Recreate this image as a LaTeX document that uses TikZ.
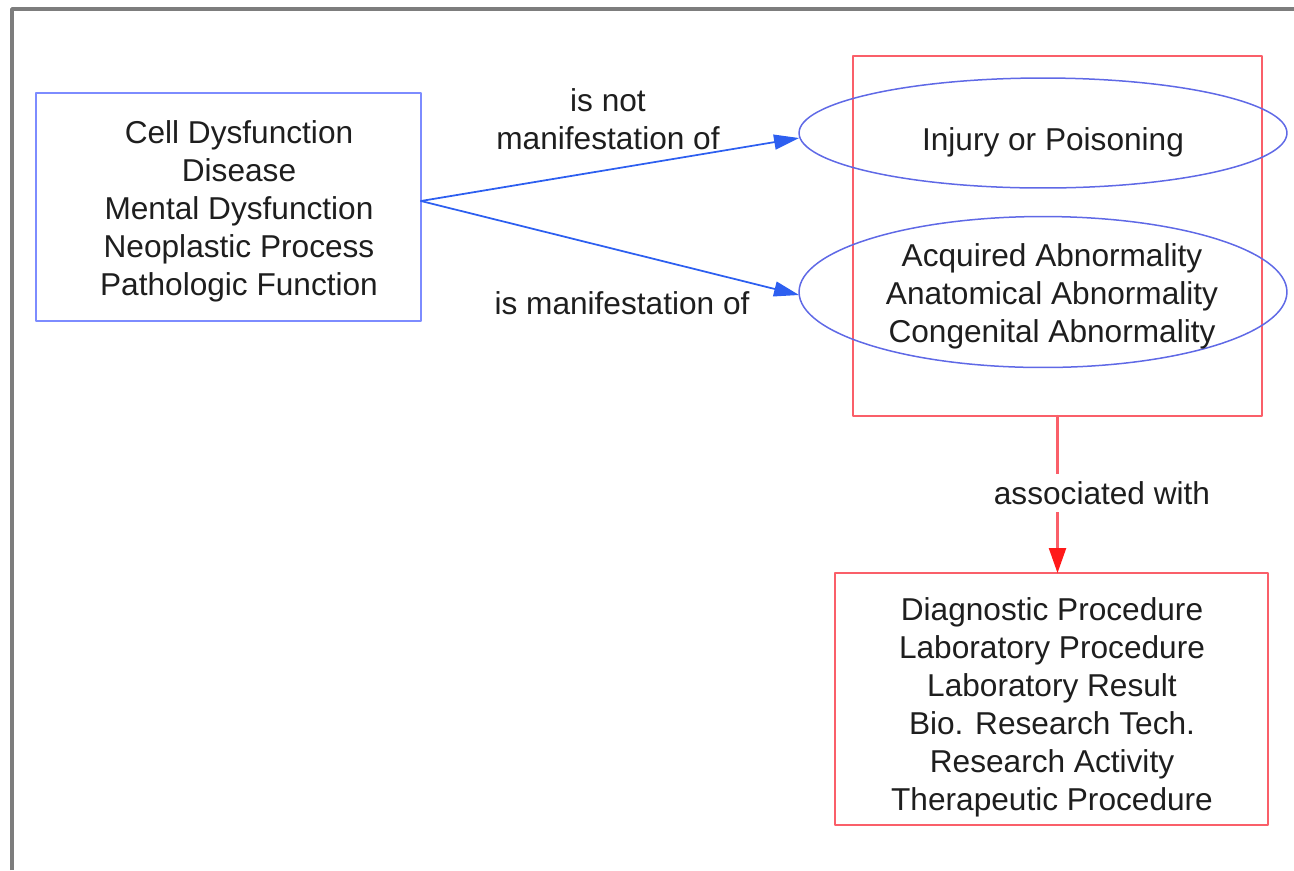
\documentclass[tikz,border=0pt]{standalone}
\usepackage{fontspec}
\setmainfont{Liberation Sans}
\usetikzlibrary{arrows.meta,shapes.geometric}
\definecolor{boxblue}{RGB}{125,140,255}
\definecolor{ellblue}{RGB}{95,105,230}
\definecolor{arrblue}{RGB}{45,95,240}
\definecolor{boxred}{RGB}{250,95,105}
\definecolor{arrred}{RGB}{255,25,25}
\definecolor{framegrey}{RGB}{125,125,125}
\definecolor{ink}{RGB}{30,30,30}
\tikzset{
  shapebox/.style={draw,rectangle,inner sep=0pt,outer sep=0pt,line width=0.05cm},
  shapeell/.style={draw=ellblue,ellipse,inner sep=0pt,outer sep=0pt,line width=0.03cm},
  words/.style={align=center,text=ink,inner sep=0pt},
  bluearr/.style={draw=arrblue,line width=0.035cm,-{Triangle[length=0.5cm,width=0.3cm]}},
  redarr/.style={draw=boxred,line width=0.045cm,-{Triangle[length=0.5cm,width=0.34cm,color=arrred]}}
}
\begin{document}
\begin{tikzpicture}[x=0.02cm,y=-0.02cm,line cap=round,line join=round,font=\fontsize{18}{21.6}\selectfont]
  \useasboundingbox (0,0) rectangle (1294,870);
  \draw[framegrey,line width=0.07cm,line cap=butt] (12,870) -- (12,9) -- (1294,9);
  % boxes and ellipses
  \node[shapebox,draw=boxblue,minimum width=7.70cm,minimum height=4.56cm] (src) at (228.5,207) {};
  \node[shapebox,draw=boxred,minimum width=8.18cm,minimum height=7.2cm] (grp) at (1057.5,236) {};
  \node[shapeell,minimum width=9.76cm,minimum height=2.2cm] (inj) at (1043,133) {};
  \node[shapeell,minimum width=9.76cm,minimum height=3.02cm] (abn) at (1043,292) {};
  \node[shapebox,draw=boxred,minimum width=8.66cm,minimum height=5.04cm] (proc) at (1051.5,699) {};
  % texts
  \node[words] (srctext) at (239,211) {Cell Dysfunction\\Disease\\Mental Dysfunction\\Neoplastic Process\\Pathologic Function};
  \node[words] (injtext) at (1053,142) {Injury or Poisoning};
  \node[words] (abntext) at (1052,296) {Acquired Abnormality\\Anatomical Abnormality\\Congenital Abnormality};
  \node[words] (proctext) at (1052,707) {Diagnostic Procedure\\Laboratory Procedure\\Laboratory Result\\Bio. Research Tech.\\Research Activity\\Therapeutic Procedure};
  % relations
  \draw[bluearr] ([yshift=0.12cm]src.east) -- ([yshift=-0.1cm]inj.west);
  \draw[bluearr] ([yshift=0.12cm]src.east) -- ([yshift=-0.06cm]abn.west);
  \draw[redarr] (grp.south) -- (grp.south |- proc.north);
  \node[words] (notman) at (608,119) {is not\\manifestation of};
  \node[words] (isman) at (622,303) {is manifestation of};
  \node[words,fill=white,inner sep=4pt] (assoc) at (1102,493) {associated with};
\end{tikzpicture}
\end{document}
